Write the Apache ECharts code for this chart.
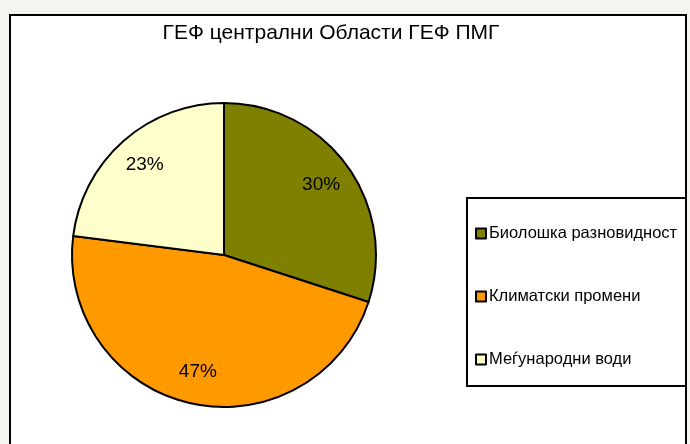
<!DOCTYPE html>
<html>
<head>
<meta charset="utf-8">
<script src="https://cdn.jsdelivr.net/npm/echarts@6/dist/echarts.min.js"></script>
<style>
  html, body { margin: 0; padding: 0; background: #f4f4f0; }
  #chart { width: 690px; height: 444px; }
</style>
</head>
<body>
<div id="chart"></div>
<script>
const categories = ['Биолошка разновидност', 'Климатски промени', 'Меѓународни води']
const shares = [30, 47, 23]
const colors = ['#808000', '#ff9900', '#ffffcc']

const pieData = categories.map((name, i) => ({
  name: name,
  value: shares[i],
  itemStyle: { color: colors[i] },
}))

const chart = echarts.init(document.getElementById('chart'))

const option = {
  backgroundColor: '#f4f4f0',
  animation: false,
  textStyle: { fontFamily: 'Liberation Sans, Arial, sans-serif' },
  title: {
    text: 'ГЕФ централни Области ГЕФ ПМГ',
    left: 326,
    top: 18,
    textAlign: 'center',
    textStyle: { fontSize: 21, fontWeight: 'normal', color: '#000', fontFamily: 'Liberation Sans, Arial, sans-serif' },
  },
  graphic: [
    {
      type: 'rect',
      z: -10,
      shape: { x: 10, y: 15, width: 676, height: 440 },
      style: { fill: '#fff', stroke: '#000', lineWidth: 2 },
    },
    {
      type: 'rect',
      z: -5,
      shape: { x: 467, y: 198, width: 219, height: 188 },
      style: { fill: '#fff', stroke: '#000', lineWidth: 2 },
    },
  ],
  legend: {
    orient: 'vertical',
    left: 470,
    top: 220,
    data: categories,
    icon: 'rect',
    itemWidth: 10,
    itemHeight: 10,
    itemGap: 46,
    selectedMode: false,
    itemStyle: { borderColor: '#000', borderWidth: 2 },
    textStyle: { fontSize: 16.5, color: '#000', padding: [0, 0, 0, -2] },
  },
  series: [
    {
      type: 'pie',
      center: [224, 255],
      radius: [0, 152],
      startAngle: 90,
      clockwise: true,
      label: { show: false },
      labelLine: { show: false },
      itemStyle: { borderColor: '#000', borderWidth: 2 },
      emphasis: { disabled: true },
      data: pieData,
    },
    {
      // transparent ring only to place the percentage labels further out
      type: 'pie',
      center: [224, 255],
      radius: [82, 152],
      startAngle: 90,
      clockwise: true,
      silent: true,
      itemStyle: { color: 'transparent', borderWidth: 0 },
      label: {
        show: true,
        position: 'inside',
        formatter: '{d}%',
        fontSize: 19,
        color: '#000',
      },
      labelLine: { show: false },
      emphasis: { disabled: true },
      data: categories.map((name, i) => ({ name: name, value: shares[i] })),
    },
  ],
}

chart.setOption(option)
</script>
</body>
</html>
